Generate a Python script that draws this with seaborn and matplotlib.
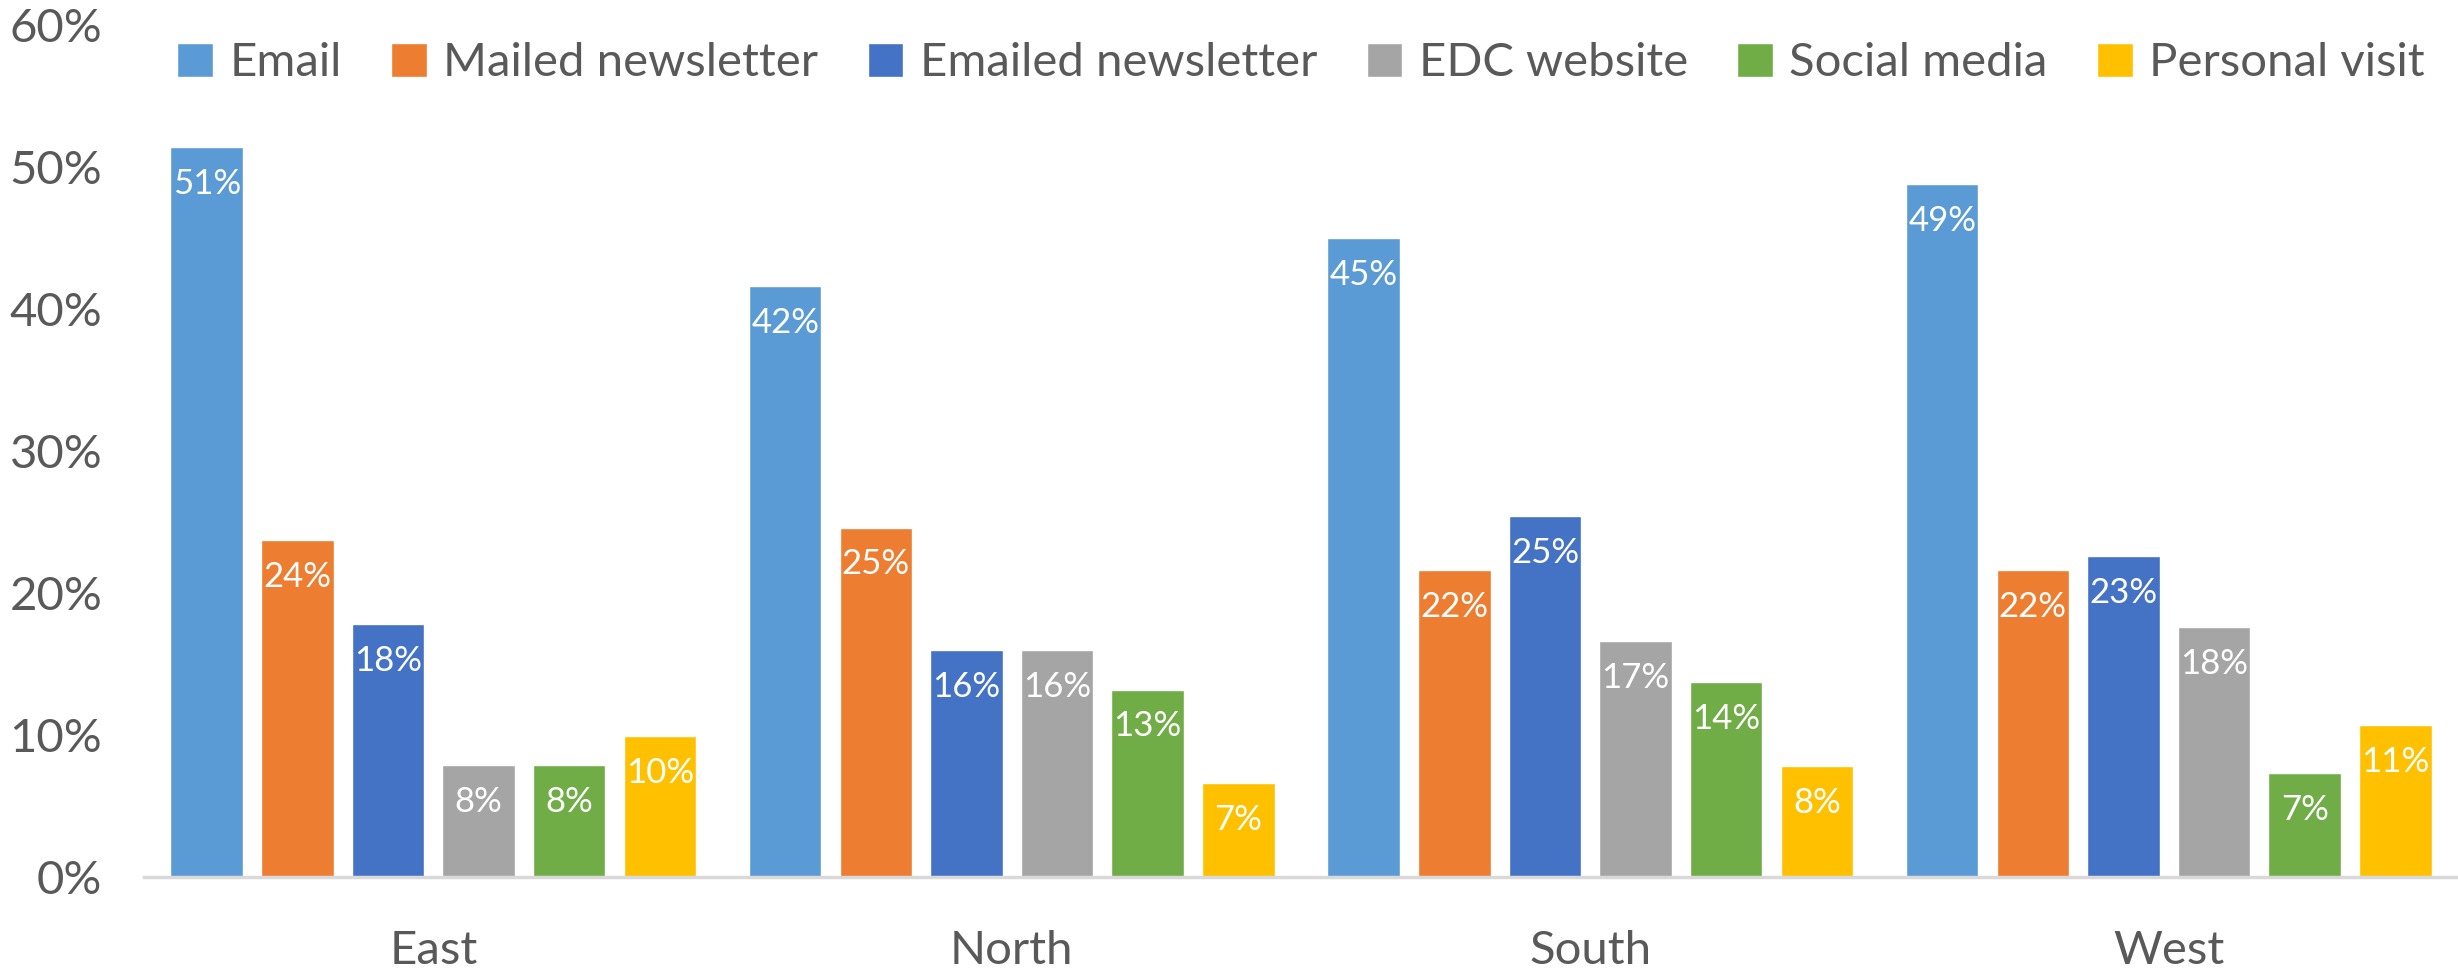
import matplotlib
matplotlib.use("Agg")
import matplotlib.pyplot as plt
import seaborn as sns
import pandas as pd
from matplotlib.ticker import FuncFormatter

regions = ["East", "North", "South", "West"]
channels = ["Email", "Mailed newsletter", "Emailed newsletter", "EDC website", "Social media", "Personal visit"]
email = [51.4, 41.6, 45.0, 48.8]
mailed_newsletter = [23.7, 24.6, 21.6, 21.6]
emailed_newsletter = [17.8, 16.0, 25.4, 22.6]
edc_website = [7.9, 16.0, 16.6, 17.6]
social_media = [7.9, 13.2, 13.7, 7.3]
personal_visit = [9.9, 6.6, 7.8, 10.7]
y_ticks = [0, 10, 20, 30, 40, 50, 60]

colors = ["#5B9BD5", "#ED7D31", "#4472C4", "#A5A5A5", "#70AD47", "#FFC000"]

series = [email, mailed_newsletter, emailed_newsletter, edc_website, social_media, personal_visit]
rows = []
for ch, vals in zip(channels, series):
    for r, v in zip(regions, vals):
        rows.append({"region": r, "channel": ch, "value": v})
df = pd.DataFrame(rows)

sns.set_theme(style="white")
plt.rcParams["font.family"] = ["Lato", "DejaVu Sans"]
text_color = "#595959"

fig = plt.figure(figsize=(24.58, 9.73), dpi=100)
ax = fig.add_axes([0.0586, 0.0987, 0.9414, 0.8756])

sns.barplot(data=df, x="region", y="value", hue="channel", order=regions,
            hue_order=channels, palette=colors, width=0.94, gap=0.2,
            saturation=1, ax=ax, errorbar=None)

ax.set_ylim(0, 60)
ax.set_xlim(-0.5, 3.5)
ax.set_yticks(y_ticks)
ax.yaxis.set_major_formatter(FuncFormatter(lambda v, p: f"{int(v)}%"))
ax.set_xlabel("")
ax.set_ylabel("")
ax.tick_params(axis="y", length=0, pad=30, labelsize=34, labelcolor=text_color)
ax.tick_params(axis="x", length=0, pad=38, labelsize=34, labelcolor=text_color)

for s in ["top", "right", "left"]:
    ax.spines[s].set_visible(False)
ax.spines["bottom"].set_color("#D9D9D9")
ax.spines["bottom"].set_linewidth(2.5)
ax.grid(False)

for cont in ax.containers:
    for bar in cont:
        h = bar.get_height()
        ax.annotate(f"{round(h):.0f}%", (bar.get_x() + bar.get_width() / 2, h),
                    xytext=(0, -15), textcoords="offset points",
                    ha="center", va="top", color="white", fontsize=25)

handles, labels = ax.get_legend_handles_labels()
ax.legend(handles, labels, ncol=6, loc="center", bbox_to_anchor=(0.5, 0.955),
          frameon=False, fontsize=34, handlelength=0.75, handleheight=0.75,
          handletextpad=0.35, columnspacing=1.05, labelcolor=text_color)

fig.savefig("out.png", dpi=100)
